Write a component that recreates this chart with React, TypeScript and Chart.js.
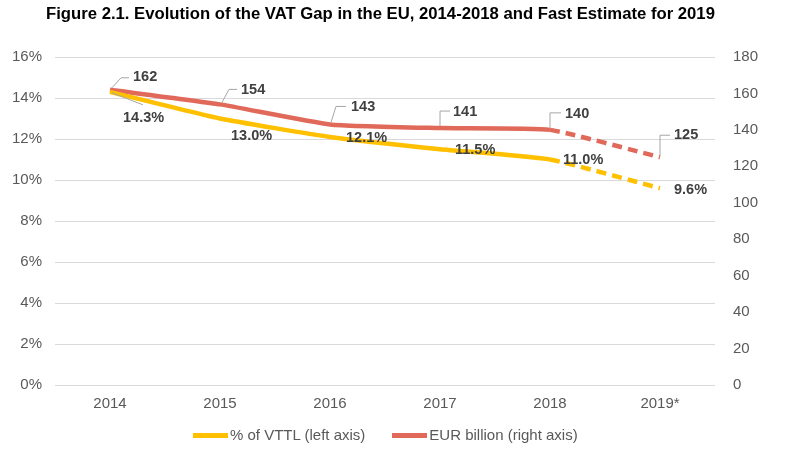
import React, { useEffect, useRef } from "react";
import { Chart, registerables } from "chart.js";

Chart.register(...registerables);

const TITLE = "Figure 2.1. Evolution of the VAT Gap in the EU, 2014-2018 and Fast Estimate for 2019";
const YEARS = ["2014", "2015", "2016", "2017", "2018", "2019*"];
const PCT_VTTL = [14.3, 13.0, 12.1, 11.5, 11.0, 9.6];
const EUR_BN = [162, 154, 143, 141, 140, 125];
const PCT_LABEL = "% of VTTL (left axis)";
const EUR_LABEL = "EUR billion (right axis)";

const YELLOW = "#FFC000";
const RED = "#E0695A";
const FONT = "'Liberation Sans', Arial, sans-serif";

// label placement (text left offset, text centre offset, optional leader polyline) relative to the point
const EUR_LABEL_POS = [
  { dx: 23, dy: -13, lead: [[2, -2], [11, -12], [19, -12]] },
  { dx: 21, dy: -14, lead: [[2, -2], [9, -15], [17, -15]] },
  { dx: 21, dy: -17, lead: [[1, -2], [6, -18], [16, -18]] },
  { dx: 13, dy: -16, lead: [[0, -2], [0, -17], [10, -17]] },
  { dx: 15, dy: -16, lead: [[0, -2], [0, -17], [11, -17]] },
  { dx: 14, dy: -22, lead: [[0, -2], [0, -22], [10, -22]] },
];
const PCT_LABEL_POS = [
  { dx: 13, dy: 26, lead: [[2, 1], [33, 13]] },
  { dx: 11, dy: 17, lead: null },
  { dx: 16, dy: 1, lead: null },
  { dx: 15, dy: 1, lead: null },
  { dx: 13, dy: 0, lead: null },
  { dx: 14, dy: 2, lead: null },
];

const labelPlugin = {
  id: "pointLabels",
  afterDatasetsDraw(chart: any) {
    const ctx = chart.ctx;
    ctx.save();
    ctx.font = `bold 14.5px ${FONT}`;
    ctx.textBaseline = "middle";
    ctx.textAlign = "left";
    chart.data.datasets.forEach((ds: any, di: number) => {
      const meta = chart.getDatasetMeta(di);
      const pos = di === 0 ? PCT_LABEL_POS : EUR_LABEL_POS;
      meta.data.forEach((pt: any, i: number) => {
        const p = pos[i];
        const v = ds.data[i];
        const text = di === 0 ? v.toFixed(1) + "%" : String(v);
        if (p.lead) {
          ctx.strokeStyle = "#a6a6a6";
          ctx.lineWidth = 1;
          ctx.beginPath();
          p.lead.forEach((q: number[], k: number) => {
            const x = pt.x + q[0];
            const y = pt.y + q[1];
            if (k === 0) ctx.moveTo(x, y);
            else ctx.lineTo(x, y);
          });
          ctx.stroke();
        }
        ctx.fillStyle = "#404040";
        ctx.fillText(text, pt.x + p.dx, pt.y + p.dy);
      });
    });
    ctx.restore();
  },
};

const dashLast = (ctx: any) => (ctx.p1DataIndex === YEARS.length - 1 ? [10, 6] : undefined);

export default function App() {
  const ref = useRef<HTMLCanvasElement>(null);
  useEffect(() => {
    if (!ref.current) return;
    const chart = new Chart(ref.current, {
      type: "line",
      data: {
        labels: YEARS,
        datasets: [
          {
            label: PCT_LABEL,
            data: PCT_VTTL,
            yAxisID: "y",
            borderColor: YELLOW,
            backgroundColor: YELLOW,
            borderWidth: 4.5,
            pointRadius: 0,
            tension: 0.15,
            segment: { borderDash: dashLast },
          },
          {
            label: EUR_LABEL,
            data: EUR_BN,
            yAxisID: "y1",
            borderColor: RED,
            backgroundColor: RED,
            borderWidth: 4.5,
            pointRadius: 0,
            tension: 0.15,
            segment: { borderDash: dashLast },
          },
        ],
      },
      options: {
        responsive: false,
        animation: false,
        layout: { padding: { top: 57, left: 0, right: 0, bottom: 0 } },
        plugins: { legend: { display: false }, title: { display: false }, tooltip: { enabled: false } },
        scales: {
          x: {
            offset: true,
            grid: { display: false, drawTicks: false },
            border: { display: false },
            ticks: { color: "#595959", font: { family: FONT, size: 15 }, padding: 10 },
            afterFit: (s: any) => { s.height = 77; },
          },
          y: {
            position: "left",
            min: 0,
            max: 16,
            grid: { color: "#d9d9d9", drawTicks: false, lineWidth: 1 },
            border: { display: false },
            ticks: {
              stepSize: 2,
              color: "#595959",
              font: { family: FONT, size: 15 },
              padding: 13,
              callback: (v: any) => v + "%",
            },
            afterFit: (s: any) => { s.width = 55; },
          },
          y1: {
            position: "right",
            min: 0,
            max: 180,
            grid: { display: false, drawTicks: false },
            border: { display: false },
            ticks: { stepSize: 20, color: "#595959", font: { family: FONT, size: 15 }, padding: 18 },
            afterFit: (s: any) => { s.width = 73; },
          },
        },
      },
      plugins: [labelPlugin],
    });
    return () => chart.destroy();
  }, []);

  const legendItem = (color: string, text: string, ml: number) => (
    <div style={{ display: "flex", alignItems: "center", marginLeft: ml }}>
      <div style={{ width: 35, height: 5, background: color, marginRight: 2 }} />
      <span>{text}</span>
    </div>
  );

  return (
    <div style={{ position: "absolute", left: 0, top: 0, width: 788, height: 462, background: "#fff", overflow: "hidden" }}>
      <canvas ref={ref} width={788} height={462} style={{ position: "absolute", left: 0, top: 0 }} />
      <div
        style={{
          position: "absolute",
          left: 0,
          width: 788,
          top: 4,
          paddingLeft: 46,
          boxSizing: "border-box",
          fontFamily: FONT,
          fontWeight: "bold",
          fontSize: 16.7,
          lineHeight: "20px",
          color: "#000",
          whiteSpace: "nowrap",
        }}
      >
        {TITLE}
      </div>
      <div
        style={{
          position: "absolute",
          left: 193,
          top: 426,
          display: "flex",
          fontFamily: FONT,
          fontSize: 15,
          lineHeight: "18px",
          color: "#595959",
          whiteSpace: "nowrap",
        }}
      >
        {legendItem(YELLOW, PCT_LABEL, 0)}
        {legendItem(RED, EUR_LABEL, 27)}
      </div>
    </div>
  );
}
